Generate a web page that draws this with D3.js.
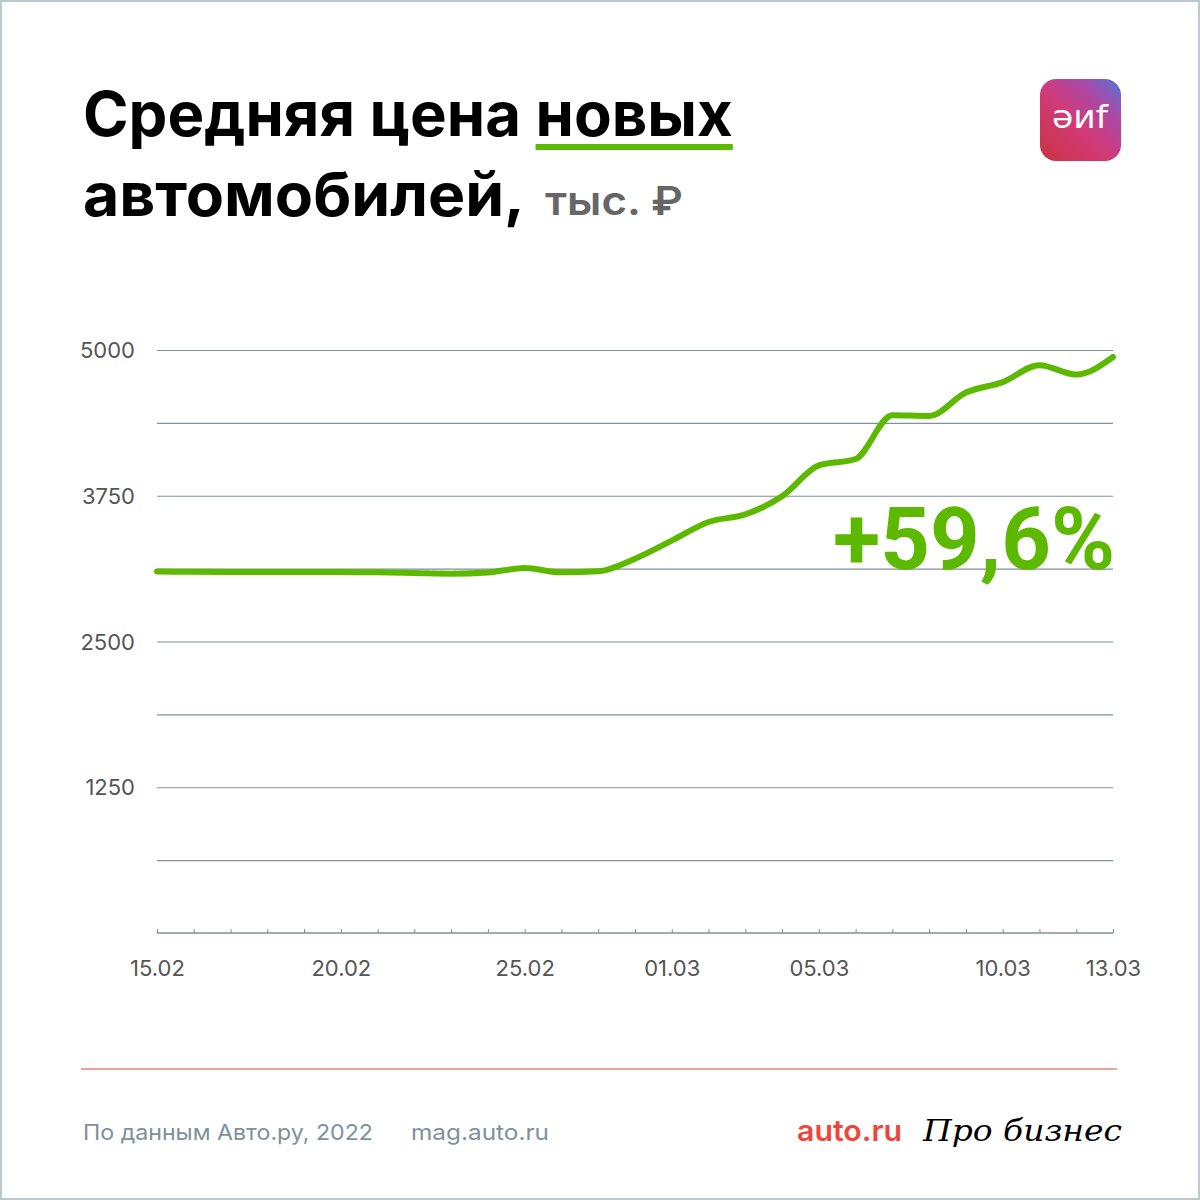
<!DOCTYPE html>
<html><head><meta charset="utf-8">
<script src="https://cdn.jsdelivr.net/npm/d3@7"></script>
<style>
html,body{margin:0;padding:0;background:#fff;}
svg{display:block;}
</style></head>
<body>
<svg id="chart" width="1200" height="1200"></svg>
<script>
// ---- data ----
const dates = ["2022-02-15","2022-02-16","2022-02-17","2022-02-18","2022-02-19","2022-02-20","2022-02-21","2022-02-22","2022-02-23","2022-02-24","2022-02-25","2022-02-26","2022-02-27","2022-02-28","2022-03-01","2022-03-02","2022-03-03","2022-03-04","2022-03-05","2022-03-06","2022-03-07","2022-03-08","2022-03-09","2022-03-10","2022-03-11","2022-03-12","2022-03-13"];
const prices = [3100,3098,3097,3096,3095,3095,3093,3088,3082,3092,3130,3093,3102,3210,3365,3525,3590,3745,4010,4065,4440,4435,4635,4725,4870,4790,4940];
const yLabelTicks = [1250,2500,3750,5000];
const yGridTicks = [625,1250,1875,2500,3125,3750,4375,5000];
const xLabelDates = ["2022-02-15","2022-02-20","2022-02-25","2022-03-01","2022-03-05","2022-03-10","2022-03-13"];
const titleLine1a = "Средняя цена ";
const titleLine1b = "новых";
const titleLine2 = "автомобилей,";
const unitText = "тыс. ₽";
const changeText = "+59,6%";
const sourceText = "По данным Авто.ру, 2022";
const siteText = "mag.auto.ru";
const brand1 = "auto.ru";
const brand2 = "Про бизнес";

const GREEN = "#5cb900";
const GRID = "#7f919a";
const parse = d3.timeParse("%Y-%m-%d");
const fmt = d3.timeFormat("%d.%m");

const svg = d3.select("#chart");
const defs = svg.append("defs");

// background + border
svg.append("rect").attr("x",1).attr("y",1).attr("width",1198).attr("height",1198)
  .attr("fill","#fff").attr("stroke","#b9cbd0").attr("stroke-width",2);

function fit(sel, w){ sel.attr("textLength", w).attr("lengthAdjust","spacingAndGlyphs"); return sel; }

// ---- title ----
const t1 = svg.append("text").attr("x",83).attr("y",136)
  .attr("font-family","Inter, 'Noto Sans', sans-serif").attr("font-weight",700)
  .attr("font-size",60).attr("fill","#000");
t1.append("tspan").text(titleLine1a);
t1.append("tspan").text(titleLine1b);
(function(){
  const w = t1.node().getComputedTextLength();
  const fs = 60*650/w;
  t1.attr("font-size", fs);
  const n = t1.node();
  const full = n.getNumberOfChars();
  const s = n.getStartPositionOfChar(titleLine1a.length).x;
  const e = n.getEndPositionOfChar(full-1).x;
  svg.append("rect").attr("x",s).attr("y",144).attr("width",e-s).attr("height",6).attr("fill",GREEN);
})();

svg.append("text").attr("x",83).attr("y",216)
  .attr("font-family","Inter, 'Noto Sans', sans-serif").attr("font-weight",700)
  .attr("font-size",60).attr("fill","#000").text(titleLine2).call(s=>fit(s,442));
svg.append("text").attr("x",545).attr("y",215)
  .attr("font-family","Inter, 'Noto Sans', sans-serif").attr("font-weight",600)
  .attr("font-size",40).attr("fill","#666").text(unitText).call(s=>fit(s,138));

// ---- logo ----
const lg = defs.append("linearGradient").attr("id","lg").attr("x1","0").attr("y1","1").attr("x2","1").attr("y2","0");
lg.append("stop").attr("offset","0").attr("stop-color","#c8323f");
lg.append("stop").attr("offset","0.45").attr("stop-color","#d23a78");
lg.append("stop").attr("offset","0.75").attr("stop-color","#a84aa8");
lg.append("stop").attr("offset","1").attr("stop-color","#4f78d8");
svg.append("rect").attr("x",1040).attr("y",79).attr("width",81).attr("height",82).attr("rx",16).attr("fill","url(#lg)");
svg.append("text").attr("x",1080).attr("y",128).attr("text-anchor","middle")
  .attr("font-family","'DejaVu Sans', sans-serif").attr("font-size",32).attr("fill","#fff")
  .text("əиf").call(s=>fit(s,56));

// ---- scales ----
const x = d3.scaleTime().domain([parse(dates[0]), parse(dates[dates.length-1])]).range([157,1113]);
const y = d3.scaleLinear().domain([0,5000]).range([933,350]);

// gridlines
svg.append("g").attr("transform","translate(157,0)")
  .call(d3.axisLeft(y).tickValues(yGridTicks).tickSize(-956).tickFormat(""))
  .call(g=>g.select(".domain").remove())
  .call(g=>g.selectAll(".tick line").attr("stroke",GRID).attr("stroke-width",1.2));

// y labels
svg.append("g").attr("transform","translate(135,0)")
  .call(d3.axisLeft(y).tickValues(yLabelTicks).tickSize(0).tickPadding(0).tickFormat(d3.format("d")))
  .call(g=>g.select(".domain").remove())
  .call(g=>g.selectAll(".tick text").attr("font-family","Inter, 'Noto Sans', sans-serif")
    .attr("font-size",22).attr("fill","#555").attr("dy","0.35em"));

// x axis line + daily ticks
svg.append("g").attr("transform","translate(0,933)")
  .call(d3.axisTop(x).ticks(d3.timeDay.every(1)).tickSize(4).tickFormat(""))
  .call(g=>g.select(".domain").attr("stroke",GRID).attr("stroke-width",1.5).attr("d","M157,0H1113"))
  .call(g=>g.selectAll(".tick line").attr("stroke",GRID));

// x labels
svg.append("g").attr("transform","translate(0,976)")
  .call(d3.axisBottom(x).tickValues(xLabelDates.map(parse)).tickSize(0).tickPadding(0).tickFormat(fmt))
  .call(g=>g.select(".domain").remove())
  .call(g=>g.selectAll(".tick text").attr("font-family","Inter, 'Noto Sans', sans-serif")
    .attr("font-size",22).attr("fill","#555").attr("dy","0").attr("y",0));

// ---- line ----
const line = d3.line().x((d,i)=>x(parse(dates[i]))).y(d=>y(d)).curve(d3.curveMonotoneX);
svg.append("path").datum(prices).attr("d",line).attr("fill","none")
  .attr("stroke",GREEN).attr("stroke-width",6).attr("stroke-linecap","round").attr("stroke-linejoin","round");

// ---- big change label (natural width, right-aligned) ----
const big = svg.append("text").attr("x",1115).attr("y",569).attr("text-anchor","end")
  .attr("font-family","Roboto, Inter, sans-serif").attr("font-weight",700)
  .attr("font-size",96).attr("fill",GREEN).text(changeText);
(function(){
  const w = big.node().getComputedTextLength();
  if (w > 282) big.attr("font-size", 96*282/w);
})();

// ---- footer ----
svg.append("line").attr("x1",81).attr("x2",1117).attr("y1",1069).attr("y2",1069)
  .attr("stroke","#d24a3a").attr("stroke-width",1);
svg.append("text").attr("x",83).attr("y",1140)
  .attr("font-family","Inter, 'Noto Sans', sans-serif").attr("font-size",22).attr("fill","#7e919c")
  .text(sourceText).call(s=>fit(s,290));
svg.append("text").attr("x",411).attr("y",1140)
  .attr("font-family","Inter, 'Noto Sans', sans-serif").attr("font-size",22).attr("fill","#7e919c")
  .text(siteText).call(s=>fit(s,138));
svg.append("text").attr("x",797).attr("y",1141)
  .attr("font-family","Inter, 'Noto Sans', sans-serif").attr("font-weight",600).attr("font-size",29).attr("fill","#f0453a")
  .text(brand1).call(s=>fit(s,105));
svg.append("text").attr("x",923).attr("y",1141)
  .attr("font-family","'DejaVu Serif', serif").attr("font-style","italic").attr("font-size",30).attr("fill","#000")
  .text(brand2).call(s=>fit(s,199));
</script>
</body></html>
